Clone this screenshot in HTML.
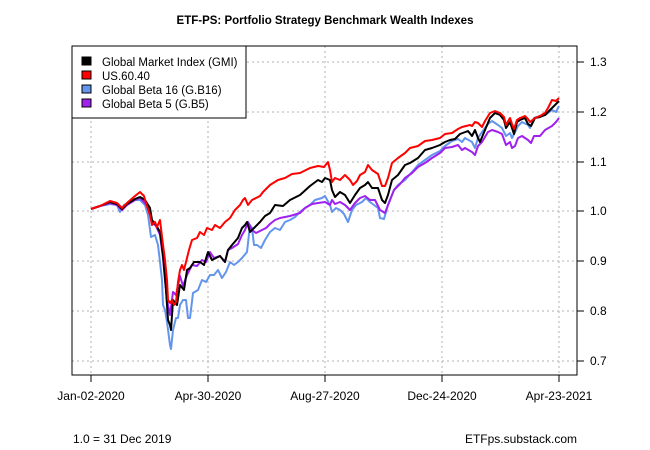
<!DOCTYPE html>
<html><head><style>body{margin:0;background:#fff}svg{display:block;font-family:"Liberation Sans",Arial,sans-serif}</style></head><body>
<svg width="650" height="450" viewBox="0 0 650 450" xmlns="http://www.w3.org/2000/svg">
<text x="325" y="24" text-anchor="middle" font-size="11.5" font-weight="bold">ETF-PS: Portfolio Strategy Benchmark Wealth Indexes</text>
<g stroke="#b0b0b0" stroke-dasharray="2,3" stroke-width="1">
<line x1="91" y1="46" x2="91" y2="375"/><line x1="208" y1="46" x2="208" y2="375"/><line x1="325" y1="46" x2="325" y2="375"/><line x1="442" y1="46" x2="442" y2="375"/><line x1="559" y1="46" x2="559" y2="375"/>
<line x1="72" y1="62" x2="577" y2="62"/><line x1="72" y1="112" x2="577" y2="112"/><line x1="72" y1="162" x2="577" y2="162"/><line x1="72" y1="211" x2="577" y2="211"/><line x1="72" y1="261" x2="577" y2="261"/><line x1="72" y1="311" x2="577" y2="311"/><line x1="72" y1="361" x2="577" y2="361"/>
</g>
<g fill="none" stroke-width="2" stroke-linejoin="round">
<polyline stroke="#6495ED" points="91,209 100,206 110,204 117,205 120,212 124,205 135,200 140,200 145,205 148,215 151,237 155,235 158,245 160,262 162,280 163,305 165,310 167,322 170,345 171,349 173,330 176,318 178,318 180,305 183,300 186,300 188,318 190,318 193,293 198,290 202,280 206,282 210,275 214,275 218,270 222,278 226,272 230,262 234,265 238,262 242,258 247,252 250,225 252,228 254,245 257,245 261,248 265,240 270,232 275,228 280,230 285,222 290,220 295,217 300,212 305,208 310,205 315,200 322,198 325,196 330,205 332,212 336,208 340,210 344,214 348,222 352,210 356,205 362,202 366,198 370,202 374,205 378,208 380,218 384,219 388,205 394,190 398,185 405,180 412,172 418,165 425,160 432,155 440,151 445,146 452,141 458,139 462,142 465,138 472,142 475,148 478,138 482,132 488,124 492,121 498,125 502,128 506,136 510,133 512,138 515,132 518,126 522,122 528,125 530,128 534,118 540,116 545,115 552,110 556,112 559,106"/>
<polyline stroke="#A020F0" points="91,209 100,206 110,203 117,205 122,210 127,205 135,200 140,198 145,203 150,210 152,222 156,226 160,235 163,258 165,280 167,300 170,315 173,292 176,295 180,276 183,286 187,275 192,265 197,266 202,260 206,262 210,252 214,258 220,256 225,262 228,250 232,248 238,244 242,235 245,230 248,222 252,230 256,233 262,230 266,228 270,224 275,220 280,218 290,216 300,213 305,208 312,204 318,203 325,202 330,205 332,200 335,204 340,202 345,205 350,210 355,203 360,198 365,196 370,200 375,200 380,210 385,213 388,205 394,190 400,184 405,178 412,173 418,167 425,163 432,158 440,153 445,148 452,147 458,145 462,150 465,148 472,152 475,155 478,146 482,142 488,132 492,130 498,132 502,134 506,145 510,142 512,148 515,146 518,138 522,136 528,140 531,143 534,136 540,136 545,130 552,126 556,122 559,118"/>
<polyline stroke="#000" points="91,209 100,206 110,202 117,204 122,209 127,204 135,199 140,197 145,200 150,208 152,220 156,225 160,232 163,255 166,290 168,320 170,325 171,330 173,300 177,305 180,285 184,290 187,270 190,268 194,262 200,262 204,265 208,252 212,260 216,258 220,256 225,262 228,250 232,245 238,238 242,228 245,225 247,222 250,232 254,228 260,222 265,216 270,213 275,205 283,206 290,200 300,195 310,186 318,180 322,182 325,178 330,180 332,190 335,197 340,192 345,195 350,203 355,195 360,188 365,185 368,182 372,188 378,188 382,200 385,203 388,195 392,180 398,175 405,165 410,163 418,158 425,150 432,148 440,145 445,142 450,140 455,139 460,134 468,131 472,136 475,130 478,138 480,142 485,130 490,118 495,113 500,115 504,120 506,128 510,122 512,128 514,134 517,122 520,120 525,118 528,124 531,126 535,118 540,117 545,115 550,110 556,104 559,101"/>
<polyline stroke="#f00" points="91,209 100,206 110,201 117,203 122,208 127,203 135,196 140,192 144,196 146,203 150,215 152,225 155,222 157,227 160,220 163,245 165,260 167,280 168,300 170,303 172,300 174,305 176,302 178,282 180,270 182,265 184,270 186,262 189,250 192,240 197,238 200,232 204,235 207,228 212,230 215,225 220,228 225,222 230,218 235,210 240,205 243,200 245,198 248,205 252,200 260,196 263,192 270,185 278,180 285,178 292,174 300,173 310,168 318,166 324,167 328,162 330,170 332,182 335,178 340,180 345,175 350,180 353,185 357,181 360,175 365,172 368,165 372,170 378,174 382,186 385,186 388,178 392,163 398,158 405,153 410,148 418,146 425,141 432,140 440,138 445,134 452,133 458,129 462,127 470,125 472,126 475,122 478,123 482,127 485,121 490,113 495,111 500,113 504,117 506,125 510,118 512,124 514,129 517,120 520,118 525,116 528,119 530,122 535,118 540,116 545,113 548,108 552,100 556,101 559,98"/>
</g>
<rect x="72" y="46" width="505" height="329" fill="none" stroke="#000"/>
<g stroke="#000">
<line x1="91" y1="375" x2="91" y2="382"/><line x1="208" y1="375" x2="208" y2="382"/><line x1="325" y1="375" x2="325" y2="382"/><line x1="442" y1="375" x2="442" y2="382"/><line x1="559" y1="375" x2="559" y2="382"/>
<line x1="577" y1="62" x2="584" y2="62"/><line x1="577" y1="112" x2="584" y2="112"/><line x1="577" y1="162" x2="584" y2="162"/><line x1="577" y1="211" x2="584" y2="211"/><line x1="577" y1="261" x2="584" y2="261"/><line x1="577" y1="311" x2="584" y2="311"/><line x1="577" y1="361" x2="584" y2="361"/>
</g>
<g font-size="12" fill="#000">
<text x="590" y="66">1.3</text><text x="590" y="116">1.2</text><text x="590" y="166">1.1</text><text x="590" y="215">1.0</text><text x="590" y="265">0.9</text><text x="590" y="315">0.8</text><text x="590" y="365">0.7</text>
<g text-anchor="middle"><text x="91" y="400">Jan-02-2020</text><text x="208" y="400">Apr-30-2020</text><text x="325" y="400">Aug-27-2020</text><text x="442" y="400">Dec-24-2020</text><text x="559" y="400">Apr-23-2021</text></g>
<text x="73" y="443">1.0 = 31 Dec 2019</text>
<text x="577" y="443" text-anchor="end">ETFps.substack.com</text>
</g>
<rect x="72" y="46" width="174" height="72" fill="#fff" stroke="#000"/>
<g font-size="11.5">
<rect x="82" y="57" width="9" height="8" fill="#000" stroke="#000"/><text x="102" y="66">Global Market Index (GMI)</text>
<rect x="82" y="71" width="9" height="8" fill="#f00" stroke="#000"/><text x="102" y="80">US.60.40</text>
<rect x="82" y="85" width="9" height="8" fill="#6495ED" stroke="#000"/><text x="102" y="94">Global Beta 16 (G.B16)</text>
<rect x="82" y="99" width="9" height="8" fill="#A020F0" stroke="#000"/><text x="102" y="108">Global Beta 5 (G.B5)</text>
</g>
</svg>
</body></html>
